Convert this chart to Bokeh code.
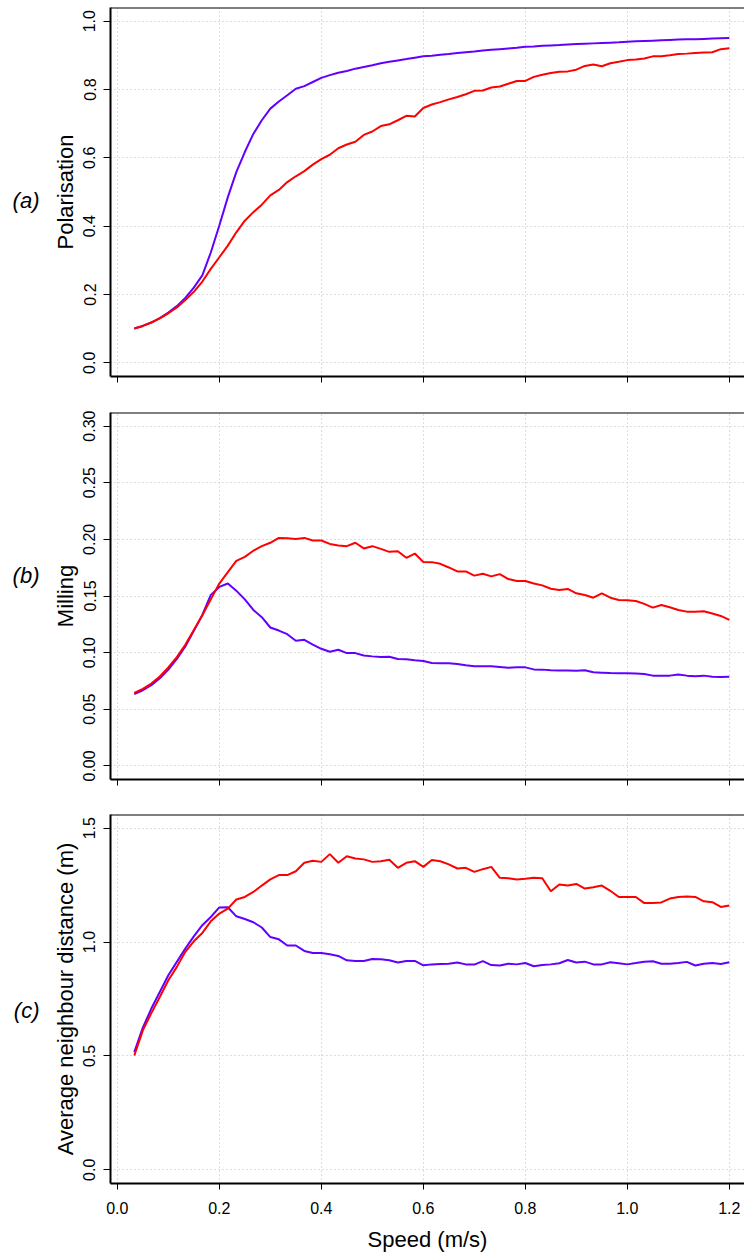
from bokeh.plotting import figure
from bokeh.models import FixedTicker, Span, PrintfTickFormatter, Range1d, LinearAxis
from bokeh.layouts import column
from bokeh.embed import file_html
from bokeh.resources import INLINE

# ---------------- data ----------------
speed = [0.0333, 0.05, 0.0667, 0.0833, 0.1, 0.1167, 0.1333, 0.15, 0.1667, 0.1833,
         0.2, 0.2167, 0.2333, 0.25, 0.2667, 0.2833, 0.3, 0.3167, 0.3333, 0.35,
         0.3667, 0.3833, 0.4, 0.4167, 0.4333, 0.45, 0.4667, 0.4833, 0.5, 0.5167,
         0.5333, 0.55, 0.5667, 0.5833, 0.6, 0.6167, 0.6333, 0.65, 0.6667, 0.6833,
         0.7, 0.7167, 0.7333, 0.75, 0.7667, 0.7833, 0.8, 0.8167, 0.8333, 0.85,
         0.8667, 0.8833, 0.9, 0.9167, 0.9333, 0.95, 0.9667, 0.9833, 1.0, 1.0167,
         1.0333, 1.05, 1.0667, 1.0833, 1.1, 1.1167, 1.1333, 1.15, 1.1667, 1.1833, 1.2]

polarisation_blue = [0.1006, 0.108, 0.118, 0.131, 0.147, 0.166, 0.190, 0.220, 0.256, 0.323,
                     0.402, 0.485, 0.558, 0.617, 0.670, 0.710, 0.744, 0.765, 0.783, 0.802,
                     0.810, 0.822, 0.834, 0.842, 0.849, 0.854, 0.861, 0.866, 0.871, 0.877,
                     0.881, 0.885, 0.889, 0.893, 0.897, 0.899, 0.902, 0.904, 0.907, 0.909,
                     0.911, 0.914, 0.916, 0.918, 0.920, 0.922, 0.925, 0.926, 0.928, 0.929,
                     0.930, 0.932, 0.933, 0.934, 0.935, 0.936, 0.937, 0.938, 0.940, 0.941,
                     0.942, 0.943, 0.944, 0.945, 0.946, 0.947, 0.947, 0.948, 0.949, 0.950, 0.951]

polarisation_red = [0.1006, 0.108, 0.118, 0.130, 0.145, 0.162, 0.184, 0.208, 0.238, 0.275,
                    0.309, 0.343, 0.382, 0.416, 0.441, 0.463, 0.490, 0.506, 0.529, 0.546,
                    0.561, 0.580, 0.596, 0.609, 0.628, 0.639, 0.647, 0.667, 0.677, 0.693,
                    0.698, 0.710, 0.723, 0.721, 0.746, 0.756, 0.763, 0.771, 0.778, 0.786,
                    0.796, 0.797, 0.806, 0.809, 0.817, 0.825, 0.825, 0.837, 0.843, 0.848,
                    0.852, 0.853, 0.858, 0.869, 0.873, 0.868, 0.877, 0.881, 0.886, 0.888,
                    0.891, 0.897, 0.897, 0.900, 0.904, 0.905, 0.907, 0.908, 0.909, 0.918, 0.921]

milling_blue = [0.0633, 0.0668, 0.0712, 0.0773, 0.085, 0.0944, 0.1055, 0.1192, 0.1333, 0.151,
                0.158, 0.161, 0.1547, 0.147, 0.1377, 0.1313, 0.1222, 0.1195, 0.1163, 0.1105,
                0.1113, 0.107, 0.1034, 0.1008, 0.1025, 0.0996, 0.0996, 0.0975,
                0.0967, 0.0961, 0.0964, 0.0944, 0.0941, 0.0932, 0.0926, 0.0908, 0.0906, 0.0906,
                0.0900, 0.0888, 0.0879, 0.0879, 0.0879, 0.0873, 0.0867, 0.0870, 0.0870, 0.0852,
                0.0850, 0.0844, 0.0842, 0.0842, 0.0841, 0.0844, 0.0826, 0.0823, 0.0820, 0.0818,
                0.0818, 0.0815, 0.0812, 0.0797, 0.0797, 0.0797, 0.0806, 0.0797, 0.0791, 0.0797,
                0.0788, 0.0785, 0.0788]

milling_red = [0.0645, 0.068, 0.0727, 0.079, 0.087, 0.096, 0.107, 0.120, 0.133, 0.147,
               0.161, 0.171, 0.181, 0.1845, 0.190, 0.194, 0.197, 0.2013, 0.201, 0.2004,
               0.2013, 0.199, 0.199, 0.196, 0.1945, 0.194, 0.197, 0.192,
               0.194, 0.1916, 0.189, 0.1895, 0.1837, 0.1875, 0.180, 0.1799, 0.1784, 0.1752,
               0.1717, 0.1717, 0.168, 0.1696, 0.1673, 0.1693, 0.165, 0.1632, 0.1632, 0.1611,
               0.1594, 0.1564, 0.1553, 0.1562, 0.1524, 0.1509, 0.1485, 0.1524, 0.1485, 0.1465,
               0.1462, 0.1456, 0.143, 0.1397, 0.142, 0.140, 0.1377, 0.1362, 0.136, 0.1365,
               0.1345, 0.1324, 0.129]

distance_blue = [0.517, 0.624, 0.708, 0.781, 0.854, 0.913, 0.971, 1.025, 1.074, 1.110,
                 1.152, 1.153, 1.113, 1.101, 1.087, 1.064, 1.022, 1.012, 0.985, 0.985,
                 0.961, 0.952, 0.952, 0.946, 0.939, 0.920, 0.917, 0.917,
                 0.926, 0.924, 0.920, 0.910, 0.917, 0.917, 0.898, 0.902, 0.904, 0.905,
                 0.910, 0.902, 0.901, 0.916, 0.899, 0.897, 0.905, 0.902, 0.908, 0.894,
                 0.899, 0.902, 0.907, 0.921, 0.910, 0.914, 0.902, 0.902, 0.911, 0.907,
                 0.902, 0.908, 0.914, 0.916, 0.905, 0.905, 0.908, 0.913, 0.897, 0.905,
                 0.908, 0.904, 0.911]

distance_red = [0.502, 0.612, 0.688, 0.759, 0.832, 0.891, 0.957, 1.0035, 1.040, 1.091,
                1.125, 1.147, 1.187, 1.198, 1.220, 1.248, 1.275, 1.294, 1.294, 1.311,
                1.348, 1.357, 1.352, 1.386, 1.348, 1.377, 1.367, 1.363,
                1.352, 1.355, 1.361, 1.326, 1.348, 1.355, 1.330, 1.360, 1.355, 1.341,
                1.323, 1.326, 1.308, 1.320, 1.330, 1.282, 1.280, 1.275, 1.278, 1.282,
                1.280, 1.223, 1.253, 1.248, 1.255, 1.235, 1.241, 1.248, 1.225, 1.198,
                1.198, 1.198, 1.171, 1.172, 1.174, 1.191, 1.198, 1.200, 1.198, 1.179,
                1.175, 1.154, 1.160]

x_ticks = [0.0, 0.2, 0.4, 0.6, 0.8, 1.0, 1.2]
pol_ticks = [0.0, 0.2, 0.4, 0.6, 0.8, 1.0]
mil_ticks = [0.0, 0.05, 0.10, 0.15, 0.20, 0.25, 0.30]
dist_ticks = [0.0, 0.5, 1.0, 1.5]

panel_labels = ["(a)", "(b)", "(c)"]
panel_label_y = [0.475, 0.168, 0.70]
y_labels = ["Polarisation", "Milling", "Average neighbour distance (m)"]
x_label = "Speed (m/s)"

BLUE = "#6200FF"
RED = "#FF0000"
FONT = "Liberation Sans"

# ---------------- layout ----------------
FIG_W = 744
LEFT = 110
FRAME_W = FIG_W - LEFT
PX_PER_UNIT = 510.0
x_start = speed[0] - 0.04 * (speed[-1] - speed[0])
x_end = x_start + FRAME_W / PX_PER_UNIT


def make_panel(yticks, ylim, fmt, ylab, plab, plab_y, top, frame_h, bottom, last):
    ext = 0.04 * (ylim[1] - ylim[0])
    p = figure(width=FIG_W, height=top + frame_h + bottom,
               x_range=Range1d(x_start, x_end),
               y_range=Range1d(ylim[0] - ext, ylim[1] + ext),
               output_backend="svg", toolbar_location=None,
               min_border_left=LEFT, min_border_right=0,
               min_border_top=top, min_border_bottom=bottom)
    p.outline_line_color = None
    p.background_fill_color = "white"
    p.border_fill_color = "white"

    for ax, ticks in ((p.xaxis, x_ticks), (p.yaxis, yticks)):
        ax.ticker = FixedTicker(ticks=ticks)
        ax.axis_line_width = 2
        ax.axis_line_color = "black"
        ax.major_tick_line_color = "black"
        ax.major_tick_line_width = 1
        ax.major_tick_in = 0
        ax.minor_tick_line_color = None
        ax.major_label_text_font = FONT
        ax.major_label_text_font_size = "16px"
        ax.major_label_text_color = "black"
        ax.axis_label_text_font = FONT
        ax.axis_label_text_font_size = "22px"
        ax.axis_label_text_font_style = "normal"
        ax.axis_label_text_color = "black"

    p.yaxis.major_tick_out = 7
    p.yaxis.formatter = PrintfTickFormatter(format=fmt)
    p.yaxis.major_label_orientation = "vertical"
    p.yaxis.major_label_standoff = 8
    p.yaxis.axis_label = ylab
    p.yaxis.axis_label_standoff = 3

    p.xaxis.major_tick_out = 6
    if last:
        p.xaxis.formatter = PrintfTickFormatter(format="%.1f")
        p.xaxis.major_label_standoff = 12
        p.xaxis.axis_label = x_label
        p.xaxis.axis_label_standoff = 10
    else:
        p.xaxis.major_label_text_font_size = "0px"
        p.xaxis.formatter = PrintfTickFormatter(format=" ")
        p.xaxis.major_label_standoff = 0

    for g in (p.xgrid, p.ygrid):
        g.grid_line_color = "#bdbdbd"
        g.grid_line_dash = "1 3"
        g.grid_line_width = 1

    # top edge of the box
    p.add_layout(Span(location=ylim[1] + ext, dimension="width",
                      line_color="black", line_width=2))

    # panel tag, drawn as a tick label of an extra, invisible left axis
    tag = LinearAxis(ticker=FixedTicker(ticks=[plab_y]),
                     formatter=PrintfTickFormatter(format=plab),
                     axis_line_color=None, major_tick_line_color=None,
                     minor_tick_line_color=None, major_tick_out=0, major_tick_in=0,
                     major_label_standoff=10,
                     major_label_text_font=FONT, major_label_text_font_size="22px",
                     major_label_text_font_style="italic",
                     major_label_text_color="black")
    p.add_layout(tag, "left")
    return p


def add_series(p, blue, red):
    p.line(speed, blue, line_color=BLUE, line_width=2)
    p.line(speed, red, line_color=RED, line_width=2)


p1 = make_panel(pol_ticks, (0.0, 1.0), "%.1f", y_labels[0], panel_labels[0], panel_label_y[0],
                7, 369, 22, False)
add_series(p1, polarisation_blue, polarisation_red)

p2 = make_panel(mil_ticks, (0.0, 0.30), "%.2f", y_labels[1], panel_labels[1], panel_label_y[1],
                14, 367, 15, False)
add_series(p2, milling_blue, milling_red)

p3 = make_panel(dist_ticks, (0.0, 1.5), "%.1f", y_labels[2], panel_labels[2], panel_label_y[2],
                20, 369, 72, True)
add_series(p3, distance_blue, distance_red)

layout = column(p1, p2, p3)
open("out.html", "w").write(file_html(layout, INLINE))
